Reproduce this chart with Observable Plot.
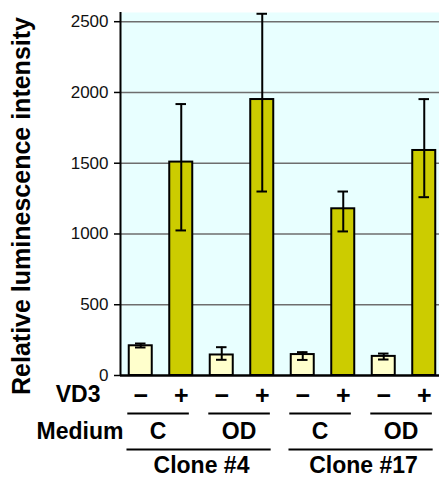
<!DOCTYPE html>
<html>
<head>
<meta charset="utf-8">
<script src="https://cdn.jsdelivr.net/npm/d3@7"></script>
<script src="https://cdn.jsdelivr.net/npm/@observablehq/plot@0.6"></script>
<style>
  html, body { margin: 0; padding: 0; background: white; overflow: hidden; }
</style>
</head>
<body>
<div id="chart"></div>
<script>
// ---- data ----
const clones = ["Clone #4", "Clone #17"];
const media = ["C", "OD"];
const vd3 = ["\u2212", "+"];
const values  = [210, 1508, 145, 1950, 148, 1178, 135, 1590];
const errLow  = [198, 1025, 111, 1300, 110, 1018, 113, 1260];
const errHigh = [226, 1918, 200, 2556, 165, 1300, 155, 1953];
const yTicks = [0, 500, 1000, 1500, 2000, 2500];
const yTitle = "Relative luminescence intensity";

// ---- derived tables ----
const rows = [];
clones.forEach((c, ci) => media.forEach((m, mi) => vd3.forEach((v, vi) => {
  const i = rows.length;
  rows.push({i, clone: c, medium: m, vd3: v, vi, value: values[i], low: errLow[i], high: errHigh[i]});
})));
const mediumGroups = [];
clones.forEach((c, ci) => media.forEach((m, mi) => {
  const start = (ci * media.length + mi) * vd3.length;
  mediumGroups.push({label: m, start, end: start + vd3.length - 1});
}));
const cloneGroups = clones.map((c, ci) => {
  const start = ci * media.length * vd3.length;
  return {label: c, start, end: start + media.length * vd3.length - 1};
});

const font = "'Liberation Sans', Arial, Helvetica, sans-serif";
const light = "#ffffcc", dark = "#cccc00";
const half = 0.284, cap = 0.13, tickLen = 6 / 40.5;
const labelSize = 23;

const chart = Plot.plot({
  width: 439,
  height: 479,
  marginTop: 12,
  marginBottom: 104,
  marginLeft: 120,
  marginRight: 0,
  x: {domain: [-0.5, 7.5], range: [120, 444], axis: null},
  y: {domain: [0, 2565], axis: null},
  style: {fontFamily: font, fontSize: "15px", background: "white", overflow: "hidden", color: "black"},
  marks: [
    Plot.frame({fill: "#e8ffff", stroke: null}),
    Plot.gridY(yTicks.filter(t => t > 0), {stroke: "#6e6e6e", strokeOpacity: 1, strokeWidth: 1.5}),
    Plot.rectY(rows, {filter: d => d.vi === 0, x1: d => d.i - half, x2: d => d.i + half, y: "value", fill: light, stroke: "black", strokeWidth: 2}),
    Plot.rectY(rows, {filter: d => d.vi === 1, x1: d => d.i - half, x2: d => d.i + half, y: "value", fill: dark, stroke: "black", strokeWidth: 2}),
    Plot.ruleX(rows, {x: "i", y1: "low", y2: "high", stroke: "black", strokeWidth: 2}),
    Plot.ruleY(rows, {y: "high", x1: d => d.i - cap, x2: d => d.i + cap, stroke: "black", strokeWidth: 2}),
    Plot.ruleY(rows, {y: "low", x1: d => d.i - cap, x2: d => d.i + cap, stroke: "black", strokeWidth: 2}),
    Plot.ruleX([-0.5], {stroke: "black", strokeWidth: 2}),
    Plot.ruleY([0], {stroke: "black", strokeWidth: 2.5}),
    // y ticks and tick labels
    Plot.ruleY(yTicks, {y: d => d, x1: -0.5 - tickLen, x2: -0.5, stroke: "black", strokeWidth: 1.5}),
    Plot.text(yTicks, {y: d => d, text: d => String(d), frameAnchor: "left", dx: -12, textAnchor: "end", fontSize: 17, lineAnchor: "middle", fill: "#111"}),
    // VD3 signs
    Plot.text(rows, {x: "i", frameAnchor: "bottom", text: "vd3", dy: 20, fontSize: 25, fontWeight: "bold", lineAnchor: "middle", fill: "black"}),
    // Medium underlines and labels
    Plot.ruleY(mediumGroups, {x1: d => d.start - 0.32, x2: d => d.end + 0.2, y: () => 0, dy: 38, stroke: "black", strokeWidth: 2}),
    Plot.text(mediumGroups, {x: d => (d.start + d.end) / 2, frameAnchor: "bottom", text: "label", dx: -3, dy: 56, fontSize: labelSize, fontWeight: "bold", lineAnchor: "middle", fill: "black"}),
    // Clone underlines and labels
    Plot.ruleY(cloneGroups, {x1: d => d.start - 0.34, x2: d => d.end + 0.22, y: () => 0, dy: 74, stroke: "black", strokeWidth: 2}),
    Plot.text(cloneGroups, {x: d => (d.start + d.end) / 2, frameAnchor: "bottom", text: "label", dy: 90, fontSize: labelSize, fontWeight: "bold", lineAnchor: "middle", fill: "black"}),
    // Row titles
    Plot.text(["VD3"], {frameAnchor: "bottom-left", text: d => d, dx: -20, dy: 19.5, textAnchor: "end", fontSize: labelSize, fontWeight: "bold", lineAnchor: "middle", fill: "black"}),
    Plot.text(["Medium"], {frameAnchor: "bottom-left", text: d => d, dx: 3, dy: 56, textAnchor: "end", fontSize: labelSize, fontWeight: "bold", lineAnchor: "middle", fill: "black"}),
    // Y title
    Plot.text([yTitle], {frameAnchor: "left", text: d => d, rotate: -90, dx: -99, dy: 12, textAnchor: "middle", fontSize: 25, fontWeight: "bold", lineAnchor: "middle", fill: "black"})
  ]
});
document.getElementById("chart").appendChild(chart);
</script>
</body>
</html>
